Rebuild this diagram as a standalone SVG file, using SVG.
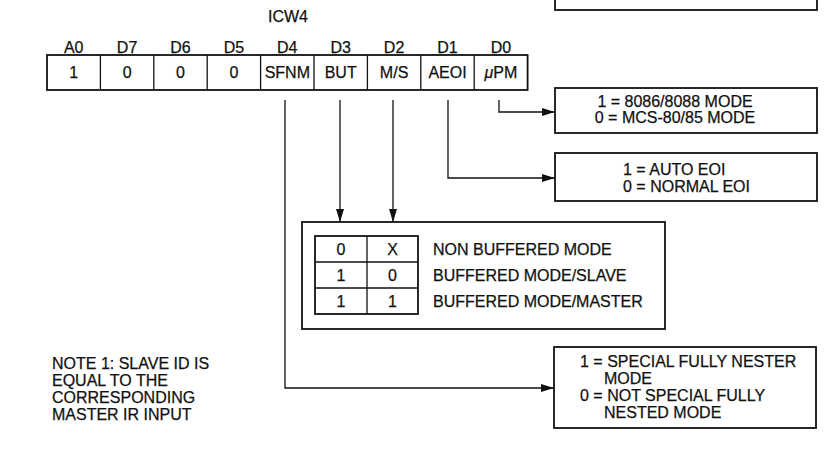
<svg xmlns="http://www.w3.org/2000/svg" width="834" height="462" viewBox="0 0 834 462">
<style>
text{font-family:"Liberation Sans",Arial,sans-serif;font-size:16px;fill:#111;stroke:#111;stroke-width:0.25}
.c{text-anchor:middle}
.box{fill:none;stroke:#111;stroke-width:1.8}
.div{stroke:#111;stroke-width:1.3}
.con{fill:none;stroke:#111;stroke-width:1.3}
</style>
<defs>
<marker id="arr" markerUnits="userSpaceOnUse" markerWidth="14" markerHeight="10" refX="13" refY="5" orient="auto">
<path d="M0,1 L13,5 L0,9 Z" fill="#111"/>
</marker>
</defs>
<rect width="834" height="462" fill="#fff"/>

<g id="top-box"><rect class="box" x="555" y="-20" width="262" height="30"/></g>

<g id="title"><text class="c" x="288" y="22">ICW4</text></g>

<g id="register">
<rect class="box" x="47" y="55" width="480.6" height="35" stroke-width="2.2"/>
<g class="div">
<line x1="100.4" y1="55" x2="100.4" y2="90"/>
<line x1="153.8" y1="55" x2="153.8" y2="90"/>
<line x1="207.2" y1="55" x2="207.2" y2="90"/>
<line x1="260.6" y1="55" x2="260.6" y2="90"/>
<line x1="314" y1="55" x2="314" y2="90"/>
<line x1="367.4" y1="55" x2="367.4" y2="90"/>
<line x1="420.8" y1="55" x2="420.8" y2="90"/>
<line x1="474.2" y1="55" x2="474.2" y2="90"/>
</g>
<text class="c" x="73.7" y="53">A0</text>
<text class="c" x="127.1" y="53">D7</text>
<text class="c" x="180.5" y="53">D6</text>
<text class="c" x="233.9" y="53">D5</text>
<text class="c" x="287.3" y="53">D4</text>
<text class="c" x="340.7" y="53">D3</text>
<text class="c" x="394.1" y="53">D2</text>
<text class="c" x="447.5" y="53">D1</text>
<text class="c" x="500.9" y="53">D0</text>
<text class="c" x="73.7" y="78">1</text>
<text class="c" x="127.1" y="78">0</text>
<text class="c" x="180.5" y="78">0</text>
<text class="c" x="233.9" y="78">0</text>
<text class="c" x="287.3" y="78">SFNM</text>
<text class="c" x="340.7" y="78">BUT</text>
<text class="c" x="394.1" y="78">M/S</text>
<text class="c" x="447.5" y="78">AEOI</text>
<text class="c" x="500.9" y="78"><tspan font-style="italic">μ</tspan>PM</text>
</g>

<g id="connectors">
<path class="con" d="M499,100 V112 H555" marker-end="url(#arr)"/>
<path class="con" d="M448,100 V178 H555" marker-end="url(#arr)"/>
<path class="con" d="M393,100 V222" marker-end="url(#arr)"/>
<path class="con" d="M340,100 V222" marker-end="url(#arr)"/>
<path class="con" d="M285,100 V388 H554" marker-end="url(#arr)"/>
</g>

<g id="mode-box">
<rect class="box" x="555" y="88" width="262" height="45"/>
<text class="c" x="675" y="107">1 = 8086/8088 MODE</text>
<text class="c" x="675" y="123">0 = MCS-80/85 MODE</text>
</g>

<g id="eoi-box">
<rect class="box" x="555" y="153" width="262" height="48"/>
<text x="623" y="175">1 = AUTO EOI</text>
<text x="623" y="192">0 = NORMAL EOI</text>
</g>

<g id="buffer-box">
<rect class="box" x="302" y="222" width="363" height="107"/>
<rect class="box" x="315" y="236" width="103" height="78" stroke-width="1.4"/>
<line class="div" x1="367" y1="236" x2="367" y2="314"/>
<line class="div" x1="315" y1="262" x2="418" y2="262"/>
<line class="div" x1="315" y1="288" x2="418" y2="288"/>
<text class="c" x="341" y="255">0</text>
<text class="c" x="392.5" y="255">X</text>
<text class="c" x="341" y="281">1</text>
<text class="c" x="392.5" y="281">0</text>
<text class="c" x="341" y="307">1</text>
<text class="c" x="392.5" y="307">1</text>
<text x="433" y="255">NON BUFFERED MODE</text>
<text x="433" y="281">BUFFERED MODE/SLAVE</text>
<text x="433" y="307">BUFFERED MODE/MASTER</text>
</g>

<g id="sfnm-box">
<rect class="box" x="554" y="347" width="262" height="81"/>
<text x="580" y="367">1 = SPECIAL FULLY NESTER</text>
<text x="604" y="384">MODE</text>
<text x="580" y="401">0 = NOT SPECIAL FULLY</text>
<text x="604" y="418">NESTED MODE</text>
</g>

<g id="note">
<text x="52" y="369">NOTE 1: SLAVE ID IS</text>
<text x="52" y="386">EQUAL TO THE</text>
<text x="52" y="403">CORRESPONDING</text>
<text x="52" y="420">MASTER IR INPUT</text>
</g>
</svg>
